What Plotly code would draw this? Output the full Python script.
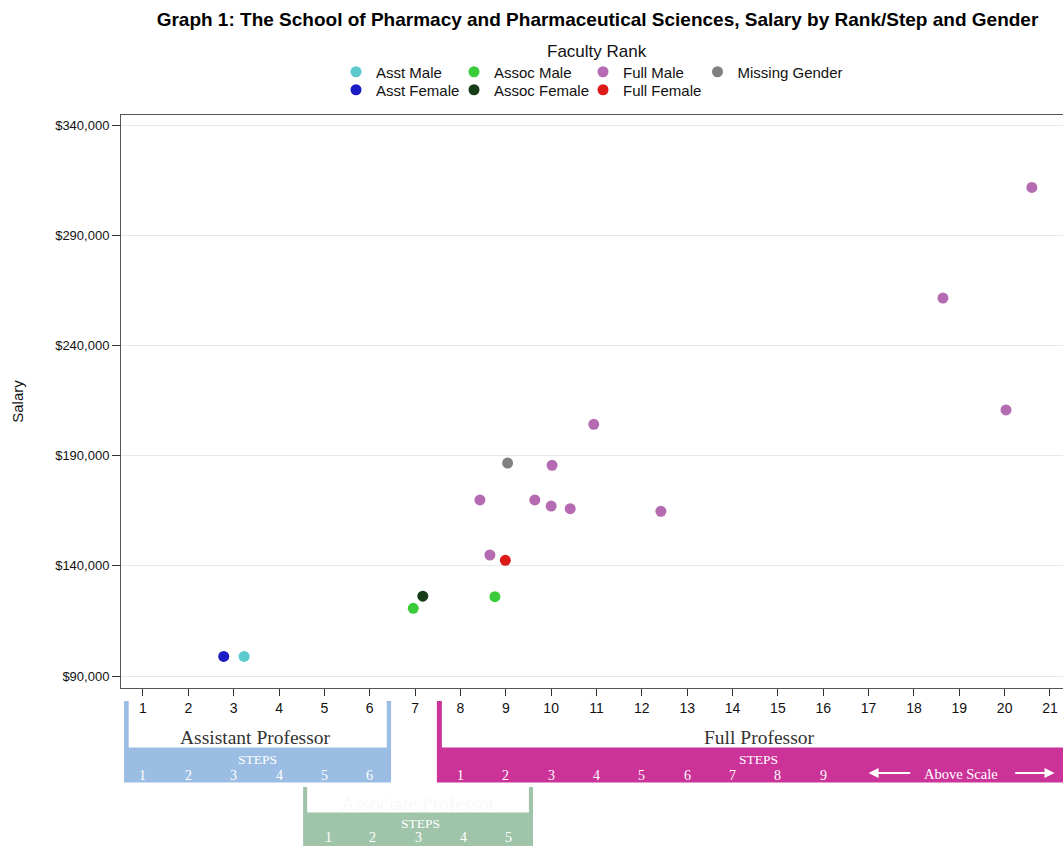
import plotly.graph_objects as go

# salary points (x = rank/step position, y = salary)
asst_male_x = [3.23]
asst_male_y = [98900]
asst_female_x = [2.78]
asst_female_y = [98900]
assoc_male_x = [6.96, 8.76]
assoc_male_y = [120700, 126000]
assoc_female_x = [7.17]
assoc_female_y = [126200]
full_male_x = [8.43, 8.65, 9.64, 10.0, 10.02, 10.42, 10.94, 12.42, 18.64, 20.03, 20.60]
full_male_y = [169900, 144900, 169900, 167100, 185600, 165900, 204200, 164700, 261500, 210700, 311700]
full_female_x = [8.99]
full_female_y = [142500]
missing_x = [9.04]
missing_y = [186600]

x_ticks = list(range(1, 22))
y_ticks = [90000, 140000, 190000, 240000, 290000, 340000]
y_tick_text = ['$90,000', '$140,000', '$190,000', '$240,000', '$290,000', '$340,000']

# salary-scale step labels under the axis
asst_steps = ['1', '2', '3', '4', '5', '6']
asst_step_pos = [1, 2, 3, 4, 5, 6]
assoc_steps = ['1', '2', '3', '4', '5']
assoc_step_pos = [5.09, 6.05, 7.07, 8.06, 9.07]
full_steps = ['1', '2', '3', '4', '5', '6', '7', '8', '9']
full_step_pos = [8, 9, 10, 11, 12, 13, 14, 15, 16]

W, H = 1063, 846
FONT = 'Liberation Sans, Arial, sans-serif'
SERIF = 'Liberation Serif, DejaVu Serif, serif'

BLUE = '#9bbde3'
GREEN = '#a0c4aa'
MAGENTA = '#cc3399'

fig = go.Figure()

series = [
    ('Asst Male', asst_male_x, asst_male_y, '#5cc9cc', 'legend', 73),
    ('Assoc Male', assoc_male_x, assoc_male_y, '#3acc3a', 'legend', 84),
    ('Full Male', full_male_x, full_male_y, '#b56bb1', 'legend', 69.5),
    ('Missing Gender', missing_x, missing_y, '#808080', 'legend', 120),
    ('Asst Female', asst_female_x, asst_female_y, '#1c1cc4', 'legend2', 73),
    ('Assoc Female', assoc_female_x, assoc_female_y, '#173e17', 'legend2', 84),
    ('Full Female', full_female_x, full_female_y, '#dc1a1a', 'legend2', 100),
]
for name, xs, ys, col, leg, lw in series:
    fig.add_trace(go.Scatter(
        x=xs, y=ys, mode='markers', name=name, legend=leg, legendwidth=lw,
        marker=dict(size=11, color=col, line=dict(width=0)),
    ))

shapes = []
ann = []

def py(p):
    # pixel row -> paper y (plot area spans rows 115..688)
    return (688 - p) / 573.0

def px(p):
    # pixel column -> paper x (plot area spans columns 121..1063)
    return (p - 121) / 942.0

def rect(x0, x1, y0, y1, col):
    shapes.append(dict(type='rect', xref='x', yref='paper', x0=x0, x1=x1,
                       y0=py(y0), y1=py(y1), fillcolor=col, line=dict(width=0),
                       layer='above'))

def txt(x, y, s, size, col, family=SERIF):
    ann.append(dict(x=x, y=py(y), xref='x', yref='paper', text=s, showarrow=False,
                    font=dict(family=family, size=size, color=col),
                    xanchor='center', yanchor='middle'))

# Assistant Professor bracket
rect(0.58, 6.47, 747.5, 782.5, BLUE)
rect(0.58, 0.685, 701, 748, BLUE)
rect(6.375, 6.47, 701, 748, BLUE)
txt(3.49, 737, 'Assistant Professor', 19.5, '#333333')
txt(3.52, 759, 'STEPS', 13.5, 'white')
for s, p in zip(asst_steps, asst_step_pos):
    txt(p, 775, s, 14, 'white')

# Associate Professor bracket (label is washed out in the original)
rect(4.53, 9.6, 812.5, 860, GREEN)
rect(4.53, 4.62, 787, 813, GREEN)
rect(9.51, 9.6, 787, 813, GREEN)
txt(7.07, 803, 'Associate Professor', 19.5, '#f8f8f8')
txt(7.13, 823.5, 'STEPS', 13.5, 'white')
for s, p in zip(assoc_steps, assoc_step_pos):
    txt(p, 837, s, 14, 'white')

# Full Professor bracket
rect(7.48, 22, 747.5, 782.5, MAGENTA)
rect(7.48, 7.59, 701, 748, MAGENTA)
txt(14.58, 737, 'Full Professor', 19.5, '#333333')
txt(14.58, 759, 'STEPS', 13.5, 'white')
for s, p in zip(full_steps, full_step_pos):
    txt(p, 775, s, 14, 'white')
txt(19.03, 774, 'Above Scale', 14.5, 'white')
for head, tail in [(17.0, 17.95), (21.1, 20.2)]:
    ann.append(dict(x=head, y=py(773), xref='x', yref='paper', ax=tail, ay=0,
                    axref='x', ayref='pixel', text='', showarrow=True,
                    arrowhead=2, arrowsize=1, arrowwidth=2, arrowcolor='white'))

# legend heading
ann.append(dict(x=px(597), y=py(52), xref='paper', yref='paper', text='Faculty Rank',
                showarrow=False, font=dict(family=FONT, size=17, color='#111111'),
                xanchor='center', yanchor='middle'))

fig.update_layout(
    width=W, height=H,
    margin=dict(l=121, r=0, t=115, b=158),
    plot_bgcolor='white', paper_bgcolor='white',
    font=dict(family=FONT, color='#111111'),
    title=dict(text='<b>Graph 1: The School of Pharmacy and Pharmaceutical Sciences, Salary by Rank/Step and Gender</b>',
               x=597.5 / W, xanchor='center', y=1 - 19 / H, yanchor='middle',
               font=dict(family=FONT, size=19, color='black')),
    legend=dict(orientation='h', xref='container', yref='container', x=336 / W, xanchor='left',
                y=1 - 72 / H, yanchor='middle', font=dict(family=FONT, size=15),
                bgcolor='rgba(0,0,0,0)', itemclick=False),
    legend2=dict(orientation='h', xref='container', yref='container', x=336 / W, xanchor='left',
                 y=1 - 90 / H, yanchor='middle', font=dict(family=FONT, size=15),
                 bgcolor='rgba(0,0,0,0)', itemclick=False),
    shapes=shapes,
    annotations=ann,
    showlegend=True,
)

fig.update_xaxes(
    range=[0.515, 21.287], tickvals=x_ticks, ticks='outside', ticklen=7, tickcolor='#333333',
    showgrid=False, zeroline=False, showline=True, linecolor='#555555', mirror=True,
    tickfont=dict(family=FONT, size=14, color='#111111'),
)
fig.update_yaxes(
    range=[84555, 344540], tickvals=y_ticks, ticktext=y_tick_text,
    ticks='outside', ticklen=8, tickcolor='#333333',
    showgrid=True, gridcolor='#e8e8e8', zeroline=False, showline=True, linecolor='#555555', mirror=True,
    tickfont=dict(family=FONT, size=13, color='#111111'),
    title=dict(text='Salary', font=dict(family=FONT, size=15, color='#111111'), standoff=27),
)

# the page body has a default 8px margin; drop it so the figure fills the window
fig.write_html('out.html', config={'displayModeBar': False},
               post_script="document.body.style.margin='0';")
